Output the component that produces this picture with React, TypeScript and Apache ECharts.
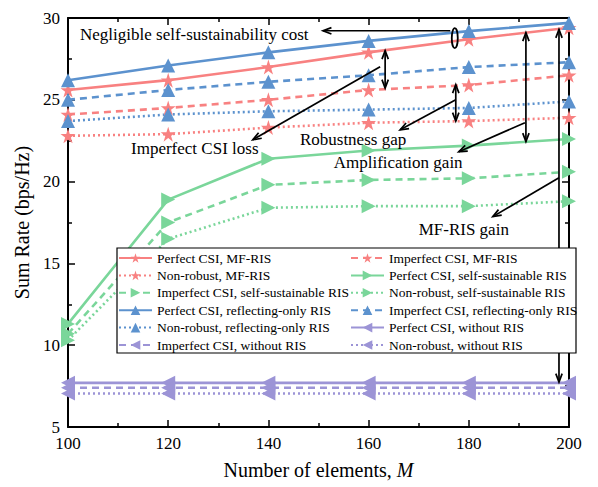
import React, { useEffect, useRef } from "react";
import * as echarts from "echarts";

// ---- data ----
const M = [100, 120, 140, 160, 180, 200];
const perfectMF = [25.6, 26.2, 27.0, 27.9, 28.7, 29.4];
const imperfectMF = [24.1, 24.5, 25.0, 25.6, 25.9, 26.5];
const nonrobustMF = [22.8, 22.9, 23.3, 23.6, 23.7, 23.9];
const perfectSS = [11.3, 18.9, 21.4, 21.9, 22.2, 22.6];
const imperfectSS = [10.7, 17.5, 19.8, 20.1, 20.2, 20.6];
const nonrobustSS = [10.3, 16.5, 18.4, 18.5, 18.5, 18.8];
const perfectRO = [26.2, 27.1, 27.9, 28.6, 29.2, 29.7];
const imperfectRO = [25.0, 25.6, 26.1, 26.5, 27.0, 27.3];
const nonrobustRO = [23.7, 24.1, 24.3, 24.4, 24.5, 24.9];
const perfectNo = [7.7, 7.7, 7.7, 7.7, 7.7, 7.7];
const imperfectNo = [7.4, 7.4, 7.4, 7.4, 7.4, 7.4];
const nonrobustNo = [7.05, 7.05, 7.05, 7.05, 7.05, 7.05];

// legend rows, two entries per row (row-major)
const legendRows = [
  ["Perfect CSI, MF-RIS", "Imperfect CSI, MF-RIS"],
  ["Non-robust, MF-RIS", "Perfect CSI, self-sustainable RIS"],
  ["Imperfect CSI, self-sustainable RIS", "Non-robust, self-sustainable RIS"],
  ["Perfect CSI, reflecting-only RIS", "Imperfect CSI, reflecting-only RIS"],
  ["Non-robust, reflecting-only RIS", "Perfect CSI, without RIS"],
  ["Imperfect CSI, without RIS", "Non-robust, without RIS"],
];

// annotations in data coordinates
const annTexts = [
  { text: "Negligible self-sustainability cost", at: [102.4, 29.0], align: "left" },
  { text: "Imperfect CSI loss", at: [125.3, 22.0], align: "center" },
  { text: "Robustness gap", at: [156.9, 22.55], align: "center" },
  { text: "Amplification gain", at: [165.9, 21.15], align: "center" },
  { text: "MF-RIS gain", at: [179.0, 17.05], align: "center" },
];
// [from, to, doubleHeaded]
const annArrows: [number[], number[], boolean][] = [
  [[176.3, 29.22], [150.9, 29.22], false],
  [[163.3, 28.0], [163.3, 25.72], true],
  [[162.3, 27.02], [136.9, 22.56], false],
  [[177.4, 25.92], [177.4, 23.7], true],
  [[177.4, 25.0], [166.3, 23.17], false],
  [[191.4, 29.1], [191.4, 22.45], true],
  [[191.2, 23.6], [178.0, 21.83], false],
  [[198.0, 29.3], [198.0, 7.75], true],
  [[198.0, 20.24], [184.8, 17.86], false],
];
const ellipseAt = [177.2, 28.77];

const FONT = "'Liberation Serif', 'Times New Roman', serif";
const RED = "#F88181";
const BLUE = "#5C92CE";
const GREEN = "#7AD69A";
const PURPLE = "#9C94D6";
const STAR =
  "path://M50,0 L61.2,34.5 L97.6,34.5 L68.2,55.9 L79.4,90.5 L50,69.1 L20.6,90.5 L31.8,55.9 L2.4,34.5 L38.8,34.5 Z";

const DASH = [7, 5];
const DOT = [2, 3];

const seriesDefs = [
  { name: "Perfect CSI, MF-RIS", data: perfectMF, color: RED, line: "solid", symbol: STAR, rot: 0, size: 15 },
  { name: "Imperfect CSI, MF-RIS", data: imperfectMF, color: RED, line: DASH, symbol: STAR, rot: 0, size: 15 },
  { name: "Non-robust, MF-RIS", data: nonrobustMF, color: RED, line: DOT, symbol: STAR, rot: 0, size: 15 },
  { name: "Perfect CSI, self-sustainable RIS", data: perfectSS, color: GREEN, line: "solid", symbol: "triangle", rot: -90, size: 14 },
  { name: "Imperfect CSI, self-sustainable RIS", data: imperfectSS, color: GREEN, line: DASH, symbol: "triangle", rot: -90, size: 14 },
  { name: "Non-robust, self-sustainable RIS", data: nonrobustSS, color: GREEN, line: DOT, symbol: "triangle", rot: -90, size: 14 },
  { name: "Perfect CSI, reflecting-only RIS", data: perfectRO, color: BLUE, line: "solid", symbol: "triangle", rot: 0, size: 14 },
  { name: "Imperfect CSI, reflecting-only RIS", data: imperfectRO, color: BLUE, line: DASH, symbol: "triangle", rot: 0, size: 14 },
  { name: "Non-robust, reflecting-only RIS", data: nonrobustRO, color: BLUE, line: DOT, symbol: "triangle", rot: 0, size: 14 },
  { name: "Perfect CSI, without RIS", data: perfectNo, color: PURPLE, line: "solid", symbol: "triangle", rot: 90, size: 14 },
  { name: "Imperfect CSI, without RIS", data: imperfectNo, color: PURPLE, line: DASH, symbol: "triangle", rot: 90, size: 14 },
  { name: "Non-robust, without RIS", data: nonrobustNo, color: PURPLE, line: DOT, symbol: "triangle", rot: 90, size: 14 },
];

function axisCommon(showLabel: boolean) {
  return {
    type: "value",
    z: 1,
    axisLine: { show: true, onZero: false, lineStyle: { color: "#000", width: 2 } },
    axisTick: { show: true, inside: true, length: 7, lineStyle: { color: "#000", width: 1.5 } },
    minorTick: { show: true, splitNumber: 2, length: 4, lineStyle: { color: "#000", width: 1.5 } },
    splitLine: { show: false },
    minorSplitLine: { show: false },
    axisLabel: { show: showLabel, color: "#000", fontSize: 17, fontFamily: FONT, margin: 8 },
  };
}

export default function App() {
  const ref = useRef<HTMLDivElement>(null);
  useEffect(() => {
    if (!ref.current) return;
    document.body.style.margin = "0";
    const chart = echarts.init(ref.current, null, { renderer: "svg" });
    const colX = [118, 350];
    const legends: any[] = [];
    legendRows.forEach((row, r) => {
      row.forEach((name, c) => {
        legends.push({
          orient: "horizontal",
          left: colX[c],
          top: 251 + r * 17.4,
          itemWidth: 33,
          itemHeight: 12,
          padding: 0,
          selectedMode: false,
          z: 60,
          data: [name],
          textStyle: { color: "#000", fontSize: 13.5, fontFamily: FONT },
        });
      });
    });
    const option: any = {
      animation: false,
      backgroundColor: "#fff",
      grid: { left: 68, right: 29, top: 18, bottom: 60 },
      xAxis: [
        {
          ...axisCommon(true),
          min: 100,
          max: 200,
          interval: 20,
          position: "bottom",
          name: "Number of elements, {i|M}",
          nameLocation: "middle",
          nameGap: 33,
          nameTextStyle: {
            color: "#000",
            fontSize: 20,
            fontFamily: FONT,
            rich: { i: { fontStyle: "italic", fontSize: 20, fontFamily: FONT, color: "#000" } },
          },
        },
        { ...axisCommon(false), min: 100, max: 200, interval: 20, position: "top" },
      ],
      yAxis: [
        {
          ...axisCommon(true),
          min: 5,
          max: 30,
          interval: 5,
          position: "left",
          name: "Sum Rate (bps/Hz)",
          nameLocation: "middle",
          nameGap: 34,
          nameTextStyle: { color: "#000", fontSize: 20, fontFamily: FONT },
        },
        { ...axisCommon(false), min: 5, max: 30, interval: 5, position: "right" },
      ],
      legend: legends,
      series: seriesDefs.map((s) => ({
        name: s.name,
        type: "line",
        xAxisIndex: 0,
        yAxisIndex: 0,
        data: s.data.map((v, i) => [M[i], v]),
        symbol: s.symbol,
        symbolSize: s.size,
        symbolRotate: s.rot,
        showSymbol: true,
        clip: false,
        z: 2,
        lineStyle: { color: s.color, width: 2.6, type: s.line },
        itemStyle: { color: s.color },
      })),
    };
    chart.setOption(option);

    const px = (p: number[]) => chart.convertToPixel({ xAxisIndex: 0, yAxisIndex: 0 }, p) as number[];
    const elements: any[] = [];
    const head = (tip: number[], from: number[]) => {
      const dx = from[0] - tip[0];
      const dy = from[1] - tip[1];
      const len = Math.hypot(dx, dy) || 1;
      const ux = dx / len;
      const uy = dy / len;
      const L = 9;
      const a = 0.36;
      const c = Math.cos(a);
      const s = Math.sin(a);
      const p1 = [tip[0] + L * (ux * c - uy * s), tip[1] + L * (ux * s + uy * c)];
      const p2 = [tip[0] + L * (ux * c + uy * s), tip[1] + L * (-ux * s + uy * c)];
      return {
        type: "polyline",
        z: 5,
        shape: { points: [p1, tip, p2] },
        style: { stroke: "#000", fill: "none", lineWidth: 1.7 },
      };
    };
    annArrows.forEach(([a, b, dbl]) => {
      const p = px(a);
      const q = px(b);
      elements.push({
        type: "line",
        z: 5,
        shape: { x1: p[0], y1: p[1], x2: q[0], y2: q[1] },
        style: { stroke: "#000", lineWidth: 1.7 },
      });
      elements.push(head(q, p));
      if (dbl) elements.push(head(p, q));
    });
    const e = px(ellipseAt);
    elements.push({
      type: "ellipse",
      z: 5,
      shape: { cx: e[0], cy: e[1], rx: 3, ry: 10 },
      style: { stroke: "#000", fill: "none", lineWidth: 1.8 },
    });
    annTexts.forEach((t) => {
      const p = px(t.at);
      elements.push({
        type: "text",
        z: 6,
        x: p[0],
        y: p[1],
        style: {
          text: t.text,
          fill: "#000",
          fontSize: 17,
          fontFamily: FONT,
          align: t.align,
          verticalAlign: "middle",
        },
      });
    });
    elements.push({
      type: "rect",
      z: 50,
      shape: { x: 117, y: 248, width: 459, height: 105 },
      style: { fill: "#fff", stroke: "#000", lineWidth: 1.2 },
    });
    chart.setOption({ graphic: { elements } });

    return () => chart.dispose();
  }, []);
  return <div ref={ref} style={{ width: 598, height: 487 }} />;
}
